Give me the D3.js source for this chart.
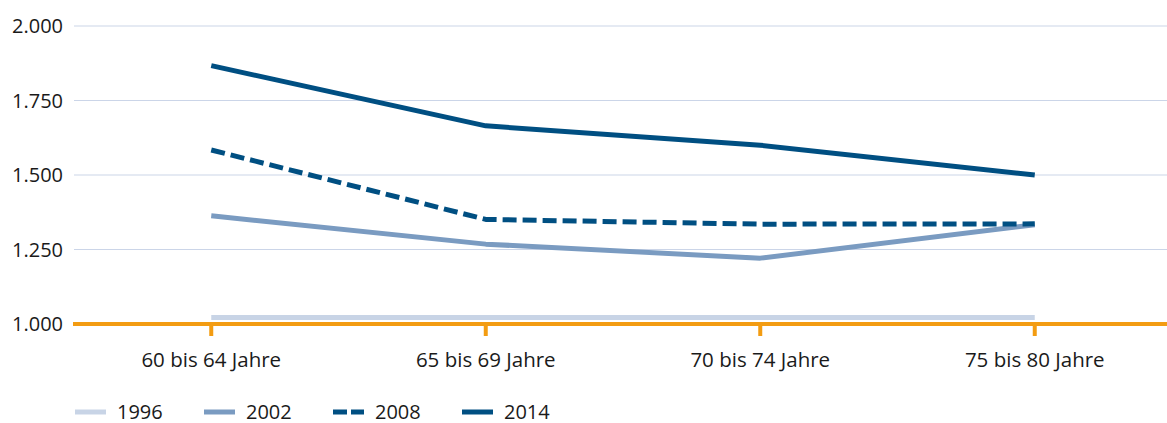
<!DOCTYPE html>
<html>
<head>
<meta charset="utf-8">
<script src="https://cdn.jsdelivr.net/npm/d3@7"></script>
<style>
  body { margin: 0; background: #fff; }
  svg { display: block; font-family: "Open Sans", sans-serif; }
</style>
</head>
<body>
<div id="visual"></div>
<script>
// data
const categories = ["60 bis 64 Jahre", "65 bis 69 Jahre", "70 bis 74 Jahre", "75 bis 80 Jahre"];
const years = ["1996", "2002", "2008", "2014"];
const values1996 = [1.022, 1.022, 1.022, 1.022];
const values2002 = [1.363, 1.268, 1.221, 1.333];
const values2008 = [1.584, 1.351, 1.335, 1.336];
const values2014 = [1.867, 1.665, 1.600, 1.500];
const yTicks = [1, 1.25, 1.5, 1.75, 2];

const COLORS = {
    "1996": "#c8d4e6",
    "2002": "#7a9bc1",
    "2008": "#004f82",
    "2014": "#004f82"
};
const DASH = {"1996": null, "2002": null, "2008": "14,6", "2014": null};

const series = years.map((yr, i) => ({
    year: yr,
    values: [values1996, values2002, values2008, values2014][i]
}));

const width = 1167, height = 423;

const svg = d3.select("#visual")
    .append("svg")
    .attr("width", width)
    .attr("height", height);

// scales
const x = d3.scalePoint()
    .domain(categories)
    .range([74, 1172])
    .padding(0.5);

const y = d3.scaleLinear()
    .domain([1, 2])
    .range([324, 26]);

// labels like 1.000, 1.250 ...
const yLabel = d => d3.format(".3f")(d);

// gridlines
svg.append("g")
    .selectAll("line")
    .data(yTicks.slice(1))
    .enter()
    .append("line")
    .attr("x1", 74)
    .attr("x2", width)
    .attr("y1", d => y(d))
    .attr("y2", d => y(d))
    .style("stroke", "#cbd5e8")
    .style("stroke-width", 1.2);

// y axis labels
svg.append("g")
    .selectAll("text")
    .data(yTicks)
    .enter()
    .append("text")
    .attr("x", 63)
    .attr("y", d => y(d))
    .attr("dy", "0.35em")
    .attr("text-anchor", "end")
    .style("font-size", "20px")
    .style("fill", "#1a1a1a")
    .text(yLabel);

// lines
const line = d3.line()
    .x((d, i) => x(categories[i]))
    .y(d => y(d));

svg.append("g")
    .selectAll("path")
    .data(series)
    .enter()
    .append("path")
    .attr("d", d => line(d.values))
    .style("fill", "none")
    .style("stroke", d => COLORS[d.year])
    .style("stroke-width", 5)
    .style("stroke-dasharray", d => DASH[d.year])
    .style("stroke-linejoin", "round");

// x axis (orange)
const xAxis = svg.append("g");
xAxis.append("line")
    .attr("x1", 73)
    .attr("x2", width)
    .attr("y1", y(1))
    .attr("y2", y(1))
    .style("stroke", "#f39c12")
    .style("stroke-width", 4);

xAxis.selectAll(".tick")
    .data(categories)
    .enter()
    .append("line")
    .attr("class", "tick")
    .attr("x1", d => x(d))
    .attr("x2", d => x(d))
    .attr("y1", y(1))
    .attr("y2", y(1) + 12)
    .style("stroke", "#f39c12")
    .style("stroke-width", 4);

xAxis.selectAll(".label")
    .data(categories)
    .enter()
    .append("text")
    .attr("class", "label")
    .attr("x", d => x(d))
    .attr("y", 367)
    .attr("text-anchor", "middle")
    .style("font-size", "20.5px")
    .style("fill", "#1a1a1a")
    .text(d => d);

// legend
const legend = svg.append("g")
    .selectAll("g")
    .data(series)
    .enter()
    .append("g")
    .attr("transform", (d, i) => "translate(" + (75 + i * 129) + ",412)");

legend.append("line")
    .attr("x1", 0)
    .attr("x2", 31)
    .attr("y1", 0)
    .attr("y2", 0)
    .style("stroke", d => COLORS[d.year])
    .style("stroke-width", 5)
    .style("stroke-dasharray", d => d.year === "2008" ? "14,4" : null);

legend.append("text")
    .attr("x", 42)
    .attr("y", 0)
    .attr("dy", "0.36em")
    .style("font-size", "20px")
    .style("fill", "#1a1a1a")
    .text(d => d.year);
</script>
</body>
</html>
